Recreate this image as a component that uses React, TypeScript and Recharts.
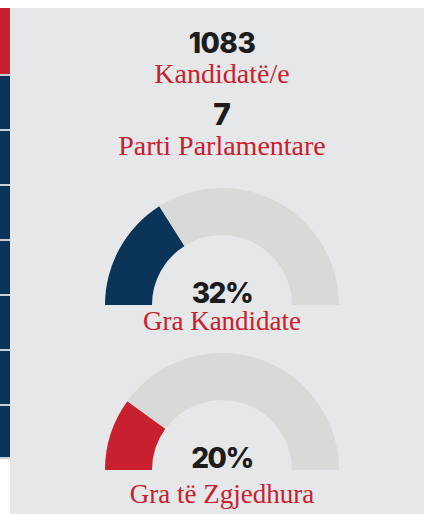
import React from "react";
import { PieChart, Pie, Cell } from "recharts";

// headline numbers
const statValues = ["1083", "7"];
const statLabels = ["Kandidatë/e", "Parti Parlamentare"];

// gauges
const gaugeNames = ["Gra Kandidate", "Gra të Zgjedhura"];
const gaugeValues = [32, 20];
const gaugeColors = ["#0b3558", "#c8202e"];

// side strip: first block red, the rest navy
const stripColors = ["#c8202e", "#0b3558", "#0b3558", "#0b3558", "#0b3558", "#0b3558", "#0b3558", "#0b3558"];

const W = 424;
const H = 514;
const RED = "#c8202e";
const SANS = "Inter, 'Open Sans', sans-serif";
const SERIF = "'Liberation Serif', 'Times New Roman', serif";

const gaugeCy = [305, 470];

function Strip() {
  let y = 8;
  const segs = [74 - 8, 53, 53, 53, 53, 53, 53, 51];
  return (
    <>
      {stripColors.map((c, i) => {
        const top = y;
        y += segs[i] + 2;
        return (
          <React.Fragment key={i}>
            <div style={{ position: "absolute", left: 0, top, width: 10, height: segs[i], background: c }} />
            <div style={{ position: "absolute", left: 0, top: top + segs[i], width: 10, height: 2, background: "#c9d0d7" }} />
          </React.Fragment>
        );
      })}
    </>
  );
}

export default function App() {
  return (
    <div style={{ position: "absolute", left: 0, top: 0, width: W, height: H, background: "#fff", overflow: "hidden" }}>
      <div style={{ position: "absolute", left: 10, top: 8, width: W - 10, height: H - 8, background: "#e6e7e9" }} />
      <Strip />
      <div style={{ position: "absolute", left: 0, top: 0 }}>
        <PieChart width={W} height={H} margin={{ top: 0, right: 0, bottom: 0, left: 0 }}>
          {gaugeValues.map((v, i) => (
            <Pie
              key={gaugeNames[i]}
              data={[{ name: gaugeNames[i], value: v }, { name: "rest", value: 100 - v }]}
              dataKey="value"
              cx={222}
              cy={gaugeCy[i]}
              startAngle={180}
              endAngle={0}
              innerRadius={70}
              outerRadius={117}
              stroke="none"
              isAnimationActive={false}
            >
              <Cell fill={gaugeColors[i]} />
              <Cell fill="#d9d9d7" />
            </Pie>
          ))}
          <text x={222} y={53} textAnchor="middle" fontFamily={SANS} fontWeight={800} fontSize={28} letterSpacing={-0.5} fill="#1c1c1c">{statValues[0]}</text>
          <text x={222} y={83} textAnchor="middle" fontFamily={SERIF} fontSize={28} fill={RED}>{statLabels[0]}</text>
          <text x={222} y={125} textAnchor="middle" fontFamily={SANS} fontWeight={800} fontSize={30} fill="#1c1c1c">{statValues[1]}</text>
          <text x={222} y={155} textAnchor="middle" fontFamily={SERIF} fontSize={28} fill={RED}>{statLabels[1]}</text>
          {gaugeValues.map((v, i) => (
            <React.Fragment key={"t" + i}>
              <text x={222} y={gaugeCy[i] - 2} textAnchor="middle" fontFamily={SANS} fontWeight={800} fontSize={28} letterSpacing={-1.5} fill="#1c1c1c">{v}%</text>
              <text x={222} y={gaugeCy[i] + 25 + i * 8} textAnchor="middle" fontFamily={SERIF} fontSize={27} fill={RED}>{gaugeNames[i]}</text>
            </React.Fragment>
          ))}
        </PieChart>
      </div>
    </div>
  );
}
